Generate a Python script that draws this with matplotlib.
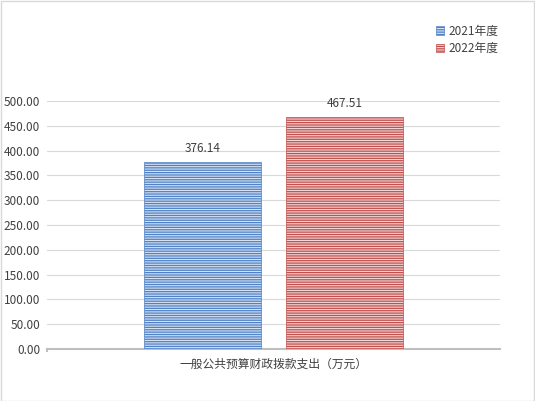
import matplotlib.pyplot as plt
from matplotlib.patches import Rectangle

plt.rcParams['font.family'] = ['Noto Sans CJK SC', 'DejaVu Sans']
plt.rcParams['hatch.linewidth'] = 0.9

category = '一般公共预算财政拨款支出（万元）'
years = ['2021年度', '2022年度']
values = [376.14, 467.51]
face_colors = ['#d6e2f4', '#f3d6d6']
line_colors = ['#4f81c4', '#c0504d']

fig = plt.figure(figsize=(5.35, 4.01), dpi=100)
ax = fig.add_axes([0.0879, 0.1297, 0.8467, 0.6185])

xs = [-0.315, 0.315]
for x, v, fc, lc, lab in zip(xs, values, face_colors, line_colors, years):
    ax.bar(x, v, width=0.517, color=fc, edgecolor=lc, hatch='-------',
           linewidth=0.5, label=lab, zorder=3)
    ax.text(x, v + 14, f'{v:.2f}', ha='center', va='bottom',
            fontsize=8.5, color='#404040')

ax.set_xlim(-1, 1)
ax.set_ylim(0, 500)
ax.set_yticks(range(0, 501, 50))
ax.set_yticklabels([f'{t:.2f}' for t in range(0, 501, 50)])
ax.tick_params(axis='y', length=0, labelsize=8.5, labelcolor='#404040', pad=5)
ax.set_xticks([])
ax.grid(axis='y', color='#d9d9d9', linewidth=0.8, zorder=0)
for s in ['left', 'right', 'top']:
    ax.spines[s].set_visible(False)
ax.spines['bottom'].set_color('#bfbfbf')
ax.spines['bottom'].set_linewidth(1.5)
ax.plot([-1, -1], [0, -5], color='#bfbfbf', lw=1.5, clip_on=False)
ax.set_xlabel(category, fontsize=8.5, color='#404040', labelpad=6)

leg = fig.legend(loc='upper left', bbox_to_anchor=(0.795, 0.965), frameon=False,
                 fontsize=8.5, handlelength=0.7, handleheight=0.7,
                 handletextpad=0.4, labelspacing=0.35, labelcolor='#404040')

fig.patches.append(Rectangle((0.001, 0.001), 0.997, 0.997, transform=fig.transFigure,
                             fill=False, edgecolor='#d9d9d9', linewidth=1))

fig.savefig('out.png', dpi=100)
